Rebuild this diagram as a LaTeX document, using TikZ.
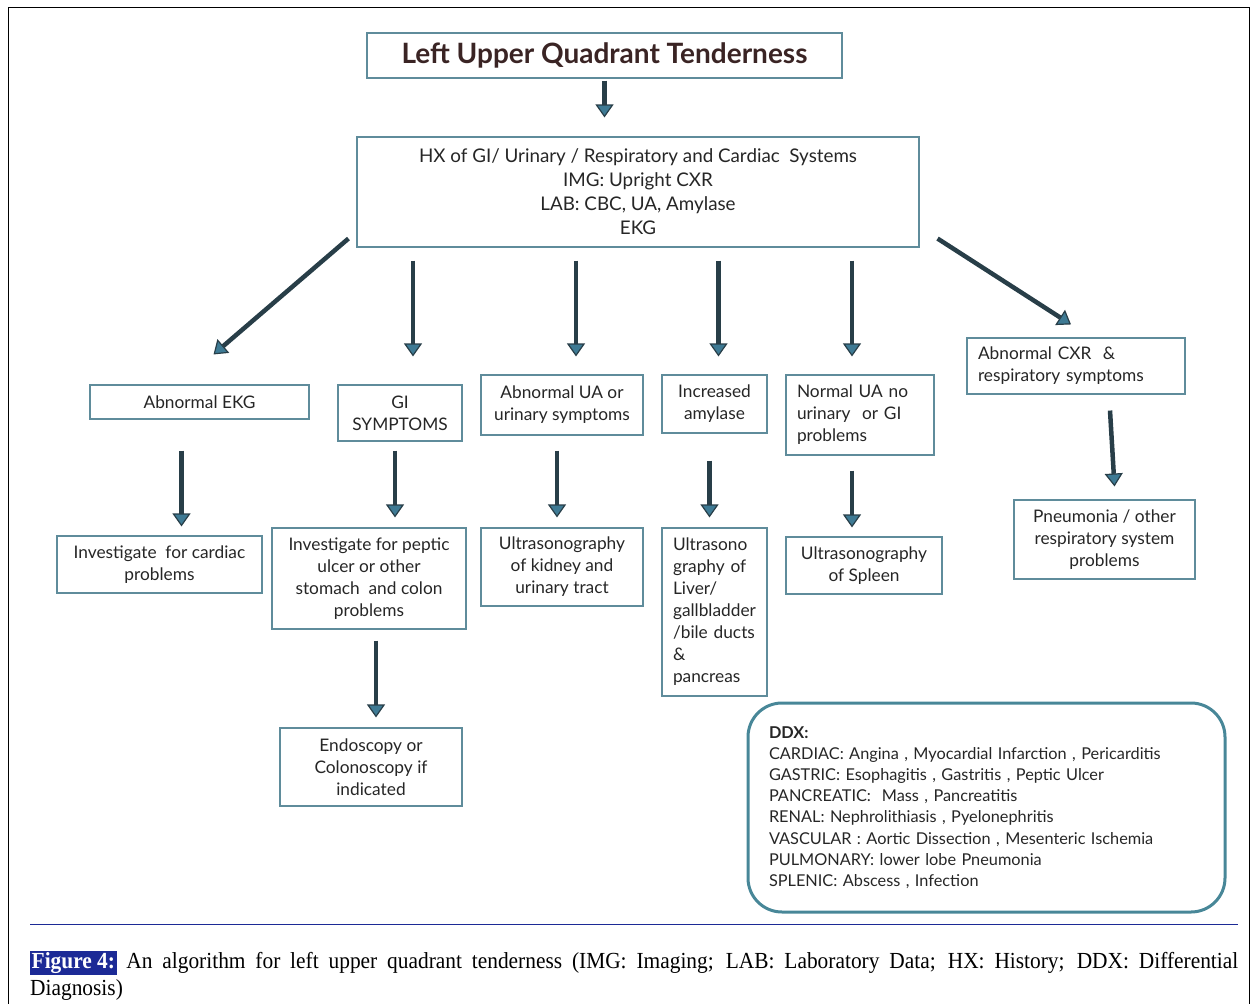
\documentclass[tikz,border=0pt]{standalone}
\usepackage{fontspec}
\setmainfont{Lato}
\newfontfamily\capserif[FakeStretch=0.93]{Liberation Serif}
\usepackage{tikz}
\usetikzlibrary{calc}
\usetikzlibrary{arrows.meta}

\definecolor{boxline}{RGB}{95,140,155}
\definecolor{shaft}{RGB}{40,62,72}
\definecolor{tipfill}{RGB}{62,122,148}
\definecolor{titletext}{RGB}{58,36,36}
\definecolor{ddxline}{RGB}{72,135,152}
\definecolor{capnavy}{RGB}{28,42,150}

\tikzset{
  box/.style={draw=boxline, line width=1.1pt, fill=white, inner sep=0pt, align=center,
    text=black!85, font=\fontsize{17.3}{22}\selectfont},
  lbox/.style={box, align=left, inner xsep=11pt},
  flow/.style={draw=shaft, line width=4.5pt,
    -{Triangle[length=13pt, width=18pt, line width=1.2pt, fill=tipfill]}}
}

\begin{document}
\begin{tikzpicture}[x=1pt, y=-1pt]
\useasboundingbox (0,0) rectangle (1256,1004);
\draw[black, line width=1pt] (8,1004) -- (8,7) -- (1249,7) -- (1249,1004);

\node[box, minimum width=475, minimum height=45, text=titletext,
  font=\fontsize{28}{32}\selectfont\bfseries] (title) at (604.5,55.5) {Left Upper Quadrant Tenderness};
\node[box, minimum width=562, minimum height=110, font=\fontsize{18.8}{24}\selectfont] (hx) at (638,192)
  {HX of GI/ Urinary / Respiratory and Cardiac\ \ Systems\\IMG: Upright CXR\\LAB: CBC, UA, Amylase\\EKG};

\node[box, minimum width=219, minimum height=34] (ekg) at (199.5,402) {Abnormal EKG};
\node[box, minimum width=124, minimum height=56] (gi) at (400,413) {GI\\SYMPTOMS};
\node[box, minimum width=162, minimum height=60] (ua) at (562,405) {Abnormal UA or\\urinary symptoms};
\node[box, minimum width=105, minimum height=58] (amy) at (714.5,404) {Increased\\amylase};
\node[lbox, text width=126, minimum height=80] (nua) at (860,415) {Normal UA no\\urinary\ \ or GI\\problems};
\node[lbox, text width=196, minimum height=56] (cxr) at (1076,366) {Abnormal CXR\ \ \&\\respiratory symptoms};

\node[box, minimum width=205, minimum height=57] (cardiac) at (159.5,564.5) {Investigate\ \ for cardiac\\problems};
\node[box, minimum width=194, minimum height=101] (peptic) at (369,578.5) {Investigate for peptic\\ulcer or other\\stomach\ \ and colon\\problems};
\node[box, minimum width=162, minimum height=78] (kidney) at (562,567) {Ultrasonography\\of kidney and\\urinary tract};
\node[lbox, text width=83, minimum height=168] (liver) at (714.5,612) {Ultrasono\\graphy of\\Liver/\\gallbladder\\/bile ducts\\\&\\pancreas};
\node[box, minimum width=156, minimum height=57] (spleen) at (864,565.5) {Ultrasonography\\of Spleen};
\node[box, minimum width=181, minimum height=79] (pneu) at (1104.5,539.5) {Pneumonia / other\\respiratory system\\problems};
\node[box, minimum width=182, minimum height=78] (endo) at (371,767) {Endoscopy or\\Colonoscopy if\\indicated};

\node[draw=ddxline, line width=3pt, rounded corners=34pt, align=left, inner xsep=21pt, inner ysep=0pt,
  text width=435, minimum height=209, text=black!85, font=\fontsize{16.3}{21.2}\selectfont] (ddx) at (986.5,807.5)
  {{\bfseries DDX:}\\
   CARDIAC: Angina , Myocardial Infarction , Pericarditis\\
   GASTRIC: Esophagitis , Gastritis , Peptic Ulcer\\
   PANCREATIC:\ \ Mass , Pancreatitis\\
   RENAL: Nephrolithiasis , Pyelonephritis\\
   VASCULAR : Aortic Dissection , Mesenteric Ischemia\\
   PULMONARY: lower lobe Pneumonia\\
   SPLENIC: Abscess , Infection};

\draw[flow, shorten <=2, shorten >=19] (title.south) -- (title.south |- hx.north);
\draw[flow] ([shift={(-8,-9)}]hx.south west) -- ([shift={(14,-30)}]ekg.north);
\draw[flow, shorten <=13, shorten >=28] ($(gi.north |- hx.south)+(13,0)$) -- ($(gi.north)+(13,0)$);
\draw[flow, shorten <=13, shorten >=18] ($(ua.north |- hx.south)+(14,0)$) -- ($(ua.north)+(14,0)$);
\draw[flow, shorten <=13, shorten >=18] ($(amy.north |- hx.south)+(4,0)$) -- ($(amy.north)+(4,0)$);
\draw[flow, shorten <=13, shorten >=18] ($(nua.north |- hx.south)+(-8,0)$) -- ($(nua.north)+(-8,0)$);
\draw[flow] ([shift={(18,-9)}]hx.south east) -- ([shift={(-5,-13)}]cxr.north);

\draw[flow, shorten <=31, shorten >=9] ($(ekg.south)+(-18,0)$) -- ($(ekg.south |- cardiac.north)+(-18,0)$);
\draw[flow, shorten <=9, shorten >=10] ($(gi.south)+(-5,0)$) -- ($(gi.south |- peptic.north)+(-5,0)$);
\draw[flow, shorten <=15, shorten >=10] ($(ua.south)+(-5,0)$) -- ($(ua.south |- kidney.north)+(-5,0)$);
\draw[flow, shorten <=27, shorten >=10] ($(amy.south)+(-5,0)$) -- ($(amy.south |- liver.north)+(-5,0)$);
\draw[flow, shorten <=15, shorten >=9] ($(nua.south)+(-8,0)$) -- ($(nua.south |- spleen.north)+(-8,0)$);
\draw[flow] ([shift={(34,16)}]cxr.south) -- ([shift={(10,-13)}]pneu.north);
\draw[flow, shorten <=11, shorten >=10] ($(peptic.south)+(7,0)$) -- ($(peptic.south |- endo.north)+(7,0)$);

\draw[capnavy, line width=1.6pt] (30,924.5) -- (1238,924.5);
\setlength{\fboxsep}{1.5pt}
\node[anchor=north west, inner sep=0pt, text width=1208, align=justify,
  font=\capserif\fontsize{23}{27}\selectfont] (caption) at (30,951)
  {\colorbox{capnavy}{\textcolor{white}{\bfseries Figure 4:}} An algorithm for left upper quadrant tenderness (IMG: Imaging; LAB: Laboratory Data; HX: History; DDX: Differential\linebreak Diagnosis)};
\end{tikzpicture}
\end{document}
